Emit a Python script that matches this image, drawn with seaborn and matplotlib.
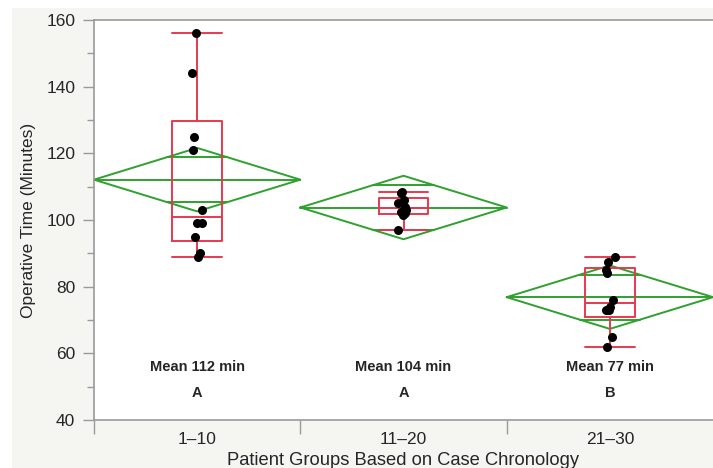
import numpy as np
import pandas as pd
import matplotlib
matplotlib.use('Agg')
import matplotlib.pyplot as plt
from matplotlib.patches import Rectangle
import seaborn as sns

sns.set_style('white')
plt.rcParams['font.family'] = ['Liberation Sans', 'DejaVu Sans']

# data (minutes per case, 10 cases per group)
groups = ['1\u201310', '11\u201320', '21\u201330']
times_1_10 = [89, 90, 95, 99, 99, 103, 121, 125, 144, 156]
times_11_20 = [97, 101.5, 102, 102.5, 103, 104, 105, 106, 108, 108.5]
times_21_30 = [62, 65, 73, 73, 74, 76, 84, 85, 87.5, 89]
mean_labels = ['Mean 112 min', 'Mean 104 min', 'Mean 77 min']
letters = ['A', 'A', 'B']

green = '#2ea12e'
red = '#e8384f'
grey = '#9a9a9a'

samples = [np.array(v, dtype=float) for v in (times_1_10, times_11_20, times_21_30)]
df = pd.DataFrame({
    'group': np.concatenate([[g] * len(s) for g, s in zip(groups, samples)]),
    'time': np.concatenate(samples),
})

# pooled std for the means diamonds (one-way anova)
n_tot = sum(len(s) for s in samples)
ss = sum(((s - s.mean()) ** 2).sum() for s in samples)
sp = np.sqrt(ss / (n_tot - len(samples)))
t_crit = 2.0518  # t(0.975, df=27)

fig = plt.figure(figsize=(7.13, 4.68), dpi=100)
fig.patch.set_facecolor('white')
fig.add_artist(Rectangle((12 / 713, 0), 1, 1 - 8 / 468, transform=fig.transFigure,
                         facecolor='#f5f5f2', edgecolor='none', zorder=-10))
ax = fig.add_axes([94 / 713, 1 - 420 / 468, 1 - 94 / 713, 400 / 468])
ax.set_facecolor('white')

# points
np.random.seed(3)
sns.stripplot(data=df, x='group', y='time', order=groups, color='black',
              size=6.5, jitter=0.03, zorder=5, ax=ax)

# means diamonds
for i, s in enumerate(samples):
    m = s.mean()
    h = t_crit * sp / np.sqrt(len(s))
    ax.plot([i - 0.5, i, i + 0.5, i, i - 0.5], [m, m + h, m, m - h, m],
            color=green, lw=1.4, zorder=2, clip_on=False)
    ax.plot([i - 0.5, i + 0.5], [m, m], color=green, lw=1.4, zorder=2, clip_on=False)
    o = h / np.sqrt(2)
    w = 0.5 * (1 - 1 / np.sqrt(2))
    for y in (m + o, m - o):
        ax.plot([i - w, i + w], [y, y], color=green, lw=1.4, zorder=2)

# box plots (quartiles like JMP)
stats = []
for s in samples:
    q1, med, q3 = np.percentile(s, [25, 50, 75], method='weibull')
    iqr = q3 - q1
    stats.append(dict(med=med, q1=q1, q3=q3,
                      whislo=s[s >= q1 - 1.5 * iqr].min(),
                      whishi=s[s <= q3 + 1.5 * iqr].max(), fliers=[]))
line_kw = dict(color=red, lw=1.4)
ax.bxp(stats, positions=range(len(samples)), widths=0.24, capwidths=0.24,
       showfliers=False, boxprops=line_kw, whiskerprops=line_kw,
       capprops=line_kw, medianprops=line_kw, zorder=3)

for i in range(len(groups)):
    ax.text(i, 56, mean_labels[i], ha='center', va='center', fontsize=10.5, fontweight='bold')
    ax.text(i, 48, letters[i], ha='center', va='center', fontsize=10.5, fontweight='bold')

ax.set_xlim(-0.5, 2.5)
ax.set_ylim(40, 160)
ax.set_yticks(range(40, 161, 20))
ax.set_yticks(range(50, 160, 20), minor=True)
ax.set_xticks(range(len(groups)))
ax.set_xticklabels(groups)
ax.set_xticks([-0.5, 0.5, 1.5], minor=True)

ax.tick_params(axis='y', which='major', direction='out', length=8, width=1, color=grey,
               pad=5.5, labelsize=12.5, left=True)
ax.tick_params(axis='y', which='minor', direction='out', length=5, width=1, color=grey, left=True)
ax.tick_params(axis='x', which='major', length=0, pad=9, labelsize=12.5, bottom=True)
ax.tick_params(axis='x', which='minor', direction='out', length=10, width=1, color=grey, bottom=True)

for side in ('left', 'bottom', 'top'):
    ax.spines[side].set_color(grey)
    ax.spines[side].set_linewidth(1.2)
ax.spines['right'].set_visible(False)

ax.set_xlabel('Patient Groups Based on Case Chronology', fontsize=13.2, labelpad=3)
ax.set_ylabel('Operative Time (Minutes)', fontsize=12.5, labelpad=7.5)

fig.savefig('out.png', dpi=100)
